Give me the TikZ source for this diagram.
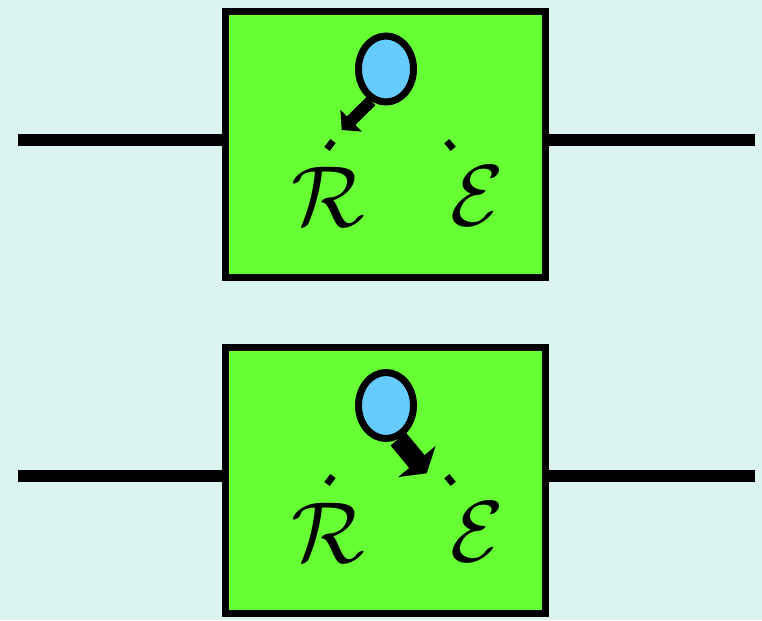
\RequirePackage{fix-cm}
\documentclass[tikz,border=0pt]{standalone}
\usepackage{amsmath,amssymb}
\usetikzlibrary{arrows.meta,positioning,calc,shapes.geometric}
\definecolor{Sky}{HTML}{DCF4F0}
\definecolor{Lime}{HTML}{66FF33}
\definecolor{Bulb}{HTML}{66CCFF}

\begin{document}
\begin{tikzpicture}[x=0.03cm,y=-0.03cm,
    box/.style={rectangle,draw=black,fill=Lime,line width=0.21cm,minimum width=9.6cm,minimum height=7.98cm},
    src/.style={ellipse,draw=black,fill=Bulb,line width=0.21cm,minimum width=1.65cm,minimum height=1.98cm,inner sep=0pt},
    wire/.style={line width=0.36cm},
    tick/.style={line width=0.2cm},
    sym/.style={font=\fontsize{74}{80}\selectfont,inner sep=0pt}]
    \fill[Sky] (0,0) rectangle (762,620);
    \useasboundingbox (0,0) rectangle (762,620);
    % upper unit
    \node[box] (boxA) at (385.5,144.5) {};
    \coordinate (inA) at (18,140);
    \coordinate (outA) at (755,140);
    \draw[wire] (inA) -- (inA -| boxA.west);
    \draw[wire] (outA -| boxA.east) -- (outA);
    \node[sym] (rA) at (328,197) {$\mathcal{R}$};
    \node[sym] (eA) at (477,196) {$\mathcal{E}$};
    \draw[tick] (327,149) -- (333,141);
    \draw[tick] (446.8,141.2) -- (453.2,148.8);
    \node[src] (srcA) at (386,69) {};
    \coordinate (tipA) at (341.7,130);
    \draw[line width=0.36cm,-{Triangle[length=0.4cm,width=0.9cm]}] (srcA.-115) -- (tipA);
    % lower unit
    \node[box] (boxB) at (385.5,480.5) {};
    \coordinate (inB) at (18,476);
    \coordinate (outB) at (755,476);
    \draw[wire] (inB) -- (inB -| boxB.west);
    \draw[wire] (outB -| boxB.east) -- (outB);
    \node[sym] (rB) at (328,533) {$\mathcal{R}$};
    \node[sym] (eB) at (477,532) {$\mathcal{E}$};
    \draw[tick] (327,484) -- (333,476);
    \draw[tick] (446.8,476.2) -- (453.2,483.8);
    \node[src] (srcB) at (386,405.5) {};
    \coordinate (tipB) at (426.7,473.3);
    \draw[line width=0.6cm,-{Triangle[length=0.46cm,width=1.44cm]}] (srcB.-70) -- (tipB);
\end{tikzpicture}
\end{document}
